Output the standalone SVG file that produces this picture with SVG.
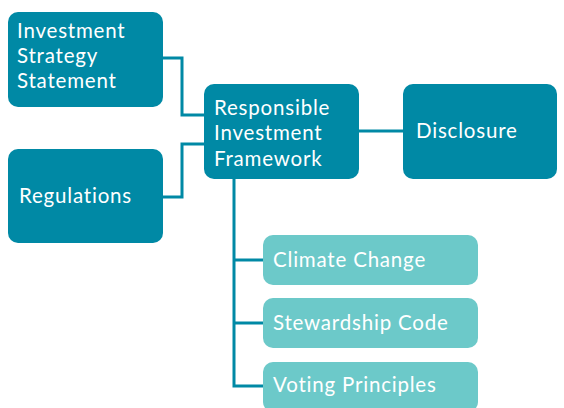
<svg xmlns="http://www.w3.org/2000/svg" width="564" height="408" viewBox="0 0 564 408">
  <style>
    .dark { fill: #0089a5; }
    .light { fill: #6cc9c9; }
    .lbl { fill: #ffffff; font-family: Lato, "Noto Sans", sans-serif; font-size: 20.5px; letter-spacing: 0.8px; }
    .wire { fill: none; stroke: #0089a5; stroke-width: 3; }
  </style>
  <rect width="564" height="408" fill="#ffffff"/>

  <g id="connectors">
    <polyline class="wire" points="163,58 182,58 182,115 204,115"/>
    <polyline class="wire" points="163,197 182,197 182,144 204,144"/>
    <line class="wire" x1="359" y1="131" x2="403" y2="131"/>
    <polyline class="wire" points="234,179 234,386 263,386"/>
    <line class="wire" x1="234" y1="260" x2="263" y2="260"/>
    <line class="wire" x1="234" y1="323" x2="263" y2="323"/>
  </g>

  <g id="investment-strategy-statement">
    <rect class="dark" x="8" y="12" width="155" height="95" rx="10"/>
    <text class="lbl"><tspan x="17" y="38">Investment</tspan><tspan x="17" y="63">Strategy</tspan><tspan x="17" y="88">Statement</tspan></text>
  </g>

  <g id="regulations">
    <rect class="dark" x="8" y="149" width="155" height="94" rx="10"/>
    <text class="lbl" x="19" y="203">Regulations</text>
  </g>

  <g id="responsible-investment-framework">
    <rect class="dark" x="204" y="84" width="155" height="95" rx="10"/>
    <text class="lbl"><tspan x="214" y="115">Responsible</tspan><tspan x="214" y="140">Investment</tspan><tspan x="214" y="166">Framework</tspan></text>
  </g>

  <g id="disclosure">
    <rect class="dark" x="403" y="84" width="154" height="95" rx="10"/>
    <text class="lbl" x="416" y="138">Disclosure</text>
  </g>

  <g id="climate-change">
    <rect class="light" x="263" y="235" width="215" height="50" rx="10"/>
    <text class="lbl" x="273" y="267">Climate Change</text>
  </g>

  <g id="stewardship-code">
    <rect class="light" x="263" y="298" width="215" height="50" rx="10"/>
    <text class="lbl" x="273" y="330">Stewardship Code</text>
  </g>

  <g id="voting-principles">
    <rect class="light" x="263" y="362" width="215" height="50" rx="10"/>
    <text class="lbl" x="273" y="392">Voting Principles</text>
  </g>
</svg>
